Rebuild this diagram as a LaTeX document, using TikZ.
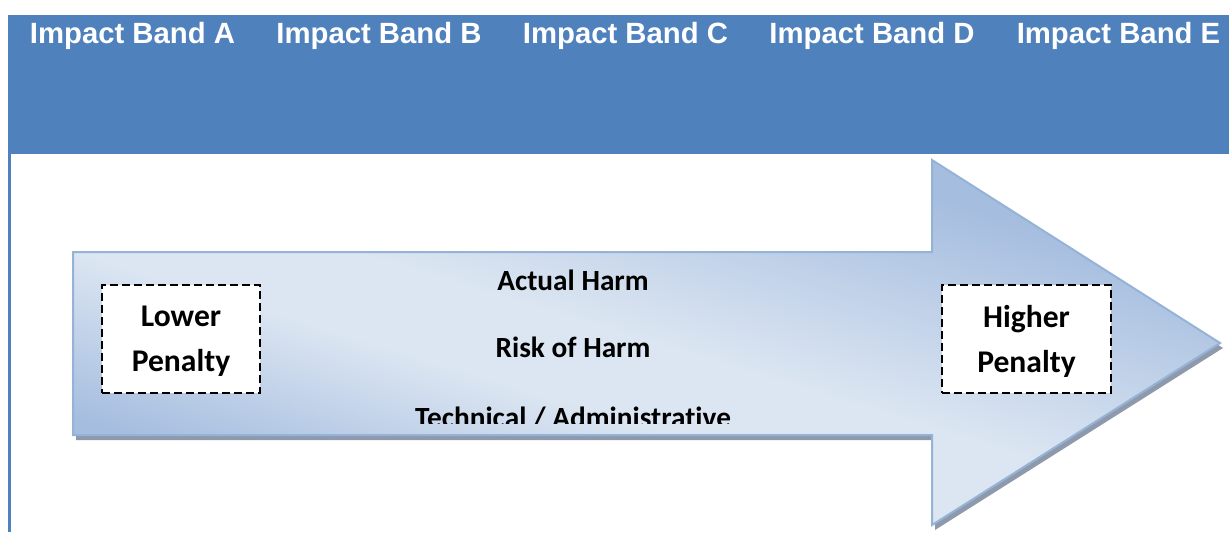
\documentclass[tikz,border=0pt]{standalone}
\usepackage{fontspec}
\setmainfont[Ligatures=NoCommon]{Carlito}
\newfontfamily\arialfont{Liberation Sans}
\usepackage{tikz}
\usetikzlibrary{shadows}
\definecolor{bandblue}{HTML}{4F81BD}
\definecolor{arrowlight}{HTML}{DCE6F2}
\definecolor{arrowdark}{HTML}{A5BDDF}
\definecolor{arrowline}{HTML}{95B3D7}
\definecolor{shadowgray}{HTML}{8E9AAC}
\pgfdeclareverticalshading{arrowshade}{100bp}{color(0bp)=(arrowdark);
	color(35bp)=(arrowdark); color(45bp)=(arrowlight); color(50bp)=(arrowlight);
	color(64bp)=(arrowdark); color(100bp)=(arrowdark)}
\def\ArrowOutline{(73,252) -- (932,252) -- (932,160) -- (1220,343)
	-- (932,525) -- (932,435) -- (73,435) -- cycle}
\tikzset{x=0.5pt, y=-0.5pt,
	band label/.style={anchor=base, text=white,
		font=\arialfont\bfseries\fontsize{14.65}{17}\selectfont},
	harm label/.style={anchor=base, inner sep=0pt,
		font=\bfseries\fontsize{14.65}{17}\selectfont},
	penalty box/.style={draw=black, fill=white, dash pattern=on 4pt off 2pt,
		line width=0.75pt, minimum height=54pt,
		inner sep=0pt, align=center, text depth=0pt,
		font=\bfseries\fontsize{15.8}{22.5}\selectfont},
	arrow shadow/.style={fill=arrowlight,
		drop shadow={shadow xshift=1.5pt, shadow yshift=-2.5pt,
			fill=shadowgray, opacity=1}}
}

\begin{document}
\begin{tikzpicture}
\useasboundingbox (0,0) rectangle (1229,532);
\fill[bandblue] (8,15) rectangle (1229,154);
\fill[bandblue] (8,154) rectangle (11,532);
\foreach \b [count=\i from 0] in {A,B,C,D,E}
	\node[band label] (Band\b) at (132.5+246.5*\i, 43) {Impact Band \b};
\path[arrow shadow] \ArrowOutline;
\begin{scope}
	\clip \ArrowOutline;
	\begin{scope}[transform canvas={rotate around={-17:(646,342)}}]
		\shade[shading=arrowshade] (-54,-58) rectangle (1346,742);
	\end{scope}
\end{scope}
\draw[arrowline, line width=1pt] \ArrowOutline;
\node[harm label] (ActualHarm) at (573,290) {Actual Harm};
\node[harm label] (RiskHarm) at (573,357) {Risk of Harm};
\begin{scope}
	\clip (400,380) rectangle (760,423);
	\node[harm label] (Technical) at (573,427) {Technical / Administrative};
\end{scope}
\node[penalty box, minimum width=79pt] (LowerPenalty) at (181,339) {Lower\\Penalty};
\node[penalty box, minimum width=84.5pt] (HigherPenalty) at (1026.5,339) {Higher\\Penalty};
\end{tikzpicture}
\end{document}
